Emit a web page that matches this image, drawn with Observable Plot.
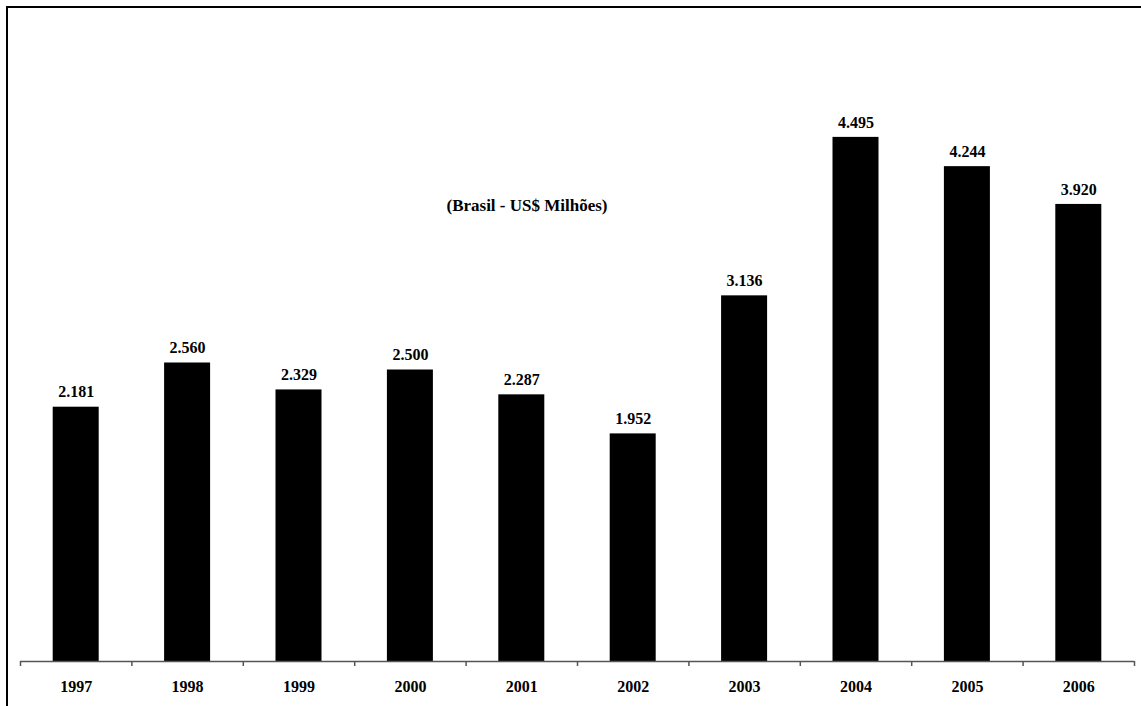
<!DOCTYPE html>
<html>
<head>
<meta charset="utf-8">
<script src="https://cdn.jsdelivr.net/npm/d3@7"></script>
<script src="https://cdn.jsdelivr.net/npm/@observablehq/plot@0.6"></script>
<style>
  html, body { margin: 0; padding: 0; background: #fff; }
  #wrap { position: relative; width: 1141px; height: 706px; overflow: hidden; }
  #frame { position: absolute; left: 6px; top: 6px; width: 1200px; height: 800px;
           border-left: 2px solid #000; border-top: 2px solid #000; pointer-events: none; }
  #title { position: absolute; left: 527px; top: 206px; transform: translate(-50%, -50%);
           font-family: "Liberation Serif", "Times New Roman", serif; font-weight: bold;
           font-size: 17px; white-space: nowrap; color: #000; }
</style>
</head>
<body>
<div id="wrap">
  <div id="chart"></div>
  <div id="title">(Brasil - US$ Milhões)</div>
  <div id="frame"></div>
</div>
<script>
const years = [1997, 1998, 1999, 2000, 2001, 2002, 2003, 2004, 2005, 2006];
const values = [2181, 2560, 2329, 2500, 2287, 1952, 3136, 4495, 4244, 3920];
const titleText = "(Brasil - US$ Milhões)";

const data = years.map((y, i) => ({year: y, value: values[i]}));
const boundaries = years.map(y => y - 0.5).concat([years[years.length - 1] + 0.5]);
const br = d3.formatLocale({decimal: ",", thousands: ".", grouping: [3], currency: ["", ""]});
const fmt = br.format(",");
const font = '"Liberation Serif", "Times New Roman", serif';

const chart = Plot.plot({
  width: 1141,
  height: 706,
  marginLeft: 20,
  marginRight: 7,
  marginTop: 78,
  marginBottom: 45,
  style: {fontFamily: font, fontWeight: "bold", fontSize: "16px", color: "#000", background: "transparent"},
  x: {domain: [years[0] - 0.5, years[years.length - 1] + 0.5], axis: null},
  y: {domain: [0, 5000], axis: null},
  marks: [
    Plot.rectY(data, {x1: d => d.year - 0.5, x2: d => d.year + 0.5, y: "value", fill: "#000", insetLeft: 32.7, insetRight: 32.7}),
    Plot.text(data, {x: "year", y: "value", text: d => fmt(d.value), dy: -15, fontSize: 16, fontWeight: "bold", fill: "#000"}),
    Plot.ruleY([0], {stroke: "#555", strokeWidth: 1.5}),
    Plot.axisX({ticks: boundaries, tickFormat: () => "", tickSize: 5, stroke: "#555", strokeWidth: 1.5, label: null}),
    Plot.axisX({ticks: years, tickFormat: d => String(d), tickSize: 0, tickPadding: 19, fontSize: 16, fontWeight: "bold", fill: "#000", label: null})
  ]
});
document.getElementById("chart").appendChild(chart);
</script>
</body>
</html>
